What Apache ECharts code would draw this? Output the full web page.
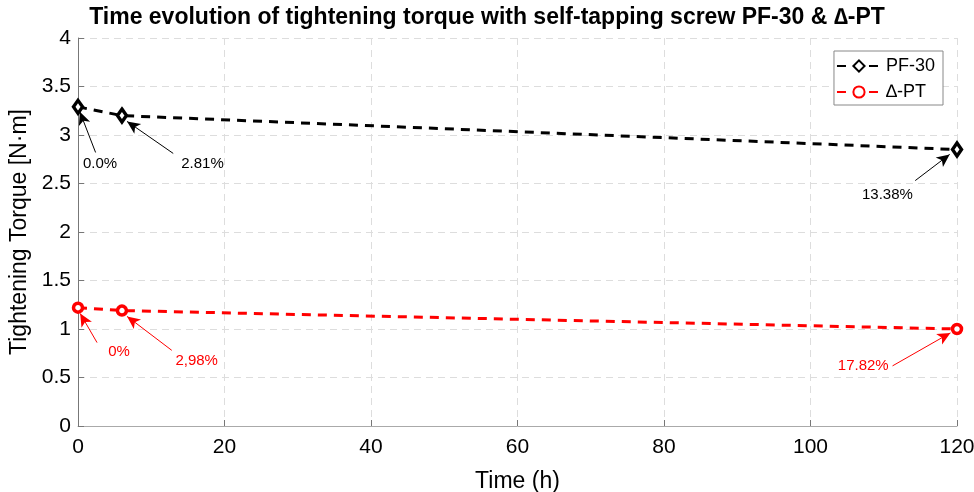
<!DOCTYPE html>
<html>
<head>
<meta charset="utf-8">
<script src="https://cdn.jsdelivr.net/npm/echarts@6/dist/echarts.min.js"></script>
<style>
  html, body { margin: 0; padding: 0; background: #fff; }
  #chart { width: 974px; height: 492px; }
</style>
</head>
<body>
<div id="chart"></div>
<script>
// time points (h)
const hours = [0, 6, 120];
// tightening torque (N·m)
const pf30 = [3.29, 3.2, 2.85];
const deltaPT = [1.22, 1.19, 1.0];

// annotation texts, label anchor and arrow tip (data coords)
const pfNotes = [
  { text: '0.0%', at: [3.0, 2.7], from: [2.4, 2.82], to: [0.25, 3.24] },
  { text: '2.81%', at: [17, 2.7], from: [13.0, 2.81], to: [6.7, 3.14] },
  { text: '13.38%', at: [110.5, 2.38], from: [114.3, 2.53], to: [119.0, 2.8] }
];
const ptNotes = [
  { text: '0%', at: [5.6, 0.76], from: [2.6, 0.86], to: [0.3, 1.16] },
  { text: '2,98%', at: [16.2, 0.67], from: [12.8, 0.78], to: [6.7, 1.13] },
  { text: '17.82%', at: [107.2, 0.62], from: [111.2, 0.62], to: [119.1, 0.96] }
];

const font = 'Liberation Sans, Arial, Helvetica, sans-serif';

function pairs(xs, ys) {
  return xs.map((x, i) => [x, ys[i]]);
}

function notes(list, color) {
  return {
    markPoint: {
      silent: true,
      symbol: 'circle',
      symbolSize: 0,
      label: {
        show: true, position: 'inside', color: color,
        fontSize: 15, fontFamily: font,
        formatter: p => p.name
      },
      data: list.map(n => ({ name: n.text, coord: n.at }))
    },
    markLine: {
      silent: true,
      symbol: ['none', 'arrow'],
      symbolSize: [9, 13],
      label: { show: false },
      lineStyle: { color: color, width: 1, type: 'solid' },
      emphasis: { disabled: true },
      data: list.map(n => [{ coord: n.from }, { coord: n.to }])
    }
  };
}

const chart = echarts.init(document.getElementById('chart'));
chart.setOption({
  animation: false,
  backgroundColor: '#fff',
  title: {
    text: 'Time evolution of tightening torque with self-tapping screw PF-30 & \u2206-PT',
    left: 'center',
    top: 1,
    textStyle: { fontFamily: font, fontSize: 23, fontWeight: 'bold', color: '#000' }
  },
  legend: {
    right: 31,
    top: 51,
    orient: 'vertical',
    itemWidth: 44,
    itemHeight: 14,
    itemGap: 8,
    padding: [6, 8, 4, 2],
    borderColor: '#888',
    borderWidth: 1,
    backgroundColor: '#fff',
    textStyle: { fontFamily: font, fontSize: 18, color: '#000' },
    data: ['PF-30', '\u2206-PT']
  },
  grid: { left: 78, right: 17, top: 38, bottom: 66, outerBoundsMode: 'none', containLabel: false },
  xAxis: {
    type: 'value',
    min: 0, max: 120, interval: 20,
    name: 'Time (h)',
    nameLocation: 'middle',
    nameGap: 44,
    nameTextStyle: { fontFamily: font, fontSize: 23, color: '#000' },
    axisLine: { show: true, lineStyle: { color: '#aaa' } },
    axisTick: { show: true, inside: true, length: 6, lineStyle: { color: '#777' } },
    axisLabel: { fontFamily: font, fontSize: 21, color: '#000', margin: 11 },
    splitLine: { show: true, lineStyle: { color: '#ddd', type: [7, 5] } }
  },
  yAxis: {
    type: 'value',
    min: 0, max: 4, interval: 0.5,
    name: 'Tightening Torque [N\u00b7m]',
    nameLocation: 'middle',
    nameGap: 44,
    nameTextStyle: { fontFamily: font, fontSize: 23, color: '#000' },
    axisLine: { show: true, lineStyle: { color: '#777' } },
    axisTick: { show: true, inside: true, length: 6, lineStyle: { color: '#777' } },
    axisLabel: { fontFamily: font, fontSize: 21, color: '#000', margin: 7 },
    splitLine: { show: true, lineStyle: { color: '#ddd', type: [7, 5] } }
  },
  series: [
    Object.assign({
      name: 'PF-30',
      type: 'line',
      data: pairs(hours, pf30),
      symbol: 'diamond',
      symbolSize: [9, 13],
      lineStyle: { color: '#000', width: 3, type: [9, 7] },
      itemStyle: { color: '#fff', borderColor: '#000', borderWidth: 3.5 },
      z: 3
    }, notes(pfNotes, '#000')),
    Object.assign({
      name: '\u2206-PT',
      type: 'line',
      data: pairs(hours, deltaPT),
      symbol: 'circle',
      symbolSize: 9,
      lineStyle: { color: '#f00', width: 3, type: [9, 7] },
      itemStyle: { color: '#fff', borderColor: '#f00', borderWidth: 3.5 },
      z: 3
    }, notes(ptNotes, '#f00'))
  ]
});
</script>
</body>
</html>
